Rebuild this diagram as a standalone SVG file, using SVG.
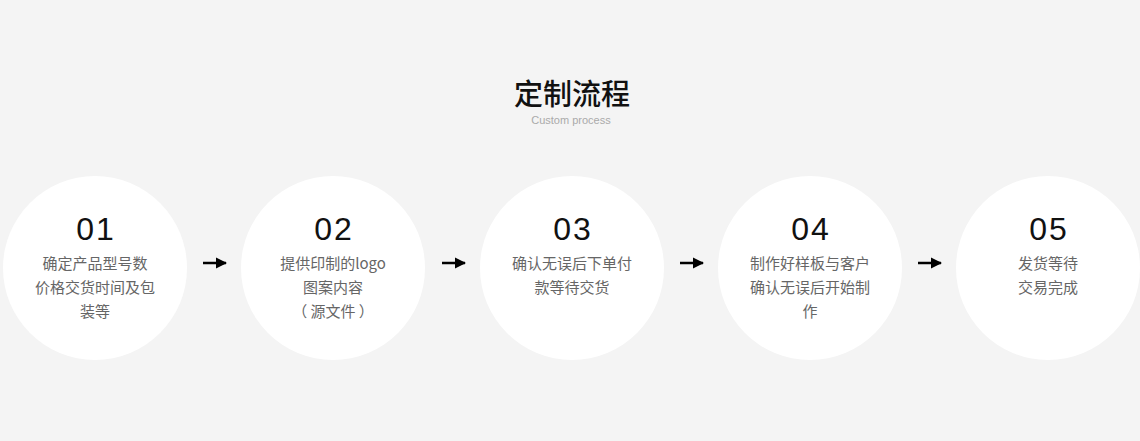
<svg xmlns="http://www.w3.org/2000/svg" width="1140" height="441" viewBox="0 0 1140 441">
<style>
.c{fill:#fff}
.n{font-family:"Liberation Sans","Noto Sans CJK SC",sans-serif;font-size:32px;fill:#111;text-anchor:middle;letter-spacing:2px}
.t{font-family:"Noto Sans CJK SC",sans-serif;font-size:15px;fill:#666;text-anchor:middle}
.a{stroke:#000;stroke-width:2.5;fill:none}
</style>
<defs><marker id="h" viewBox="0 0 10 10" refX="9" refY="5" markerWidth="4.5" markerHeight="5" orient="auto"><path d="M0,0L10,5L0,10z" fill="#000"/></marker></defs>
<rect width="1140" height="441" fill="#f4f4f4"/>
<text x="572" y="105" font-family="Noto Sans CJK SC,sans-serif" font-size="29" font-weight="500" text-anchor="middle" fill="#111">定制流程</text>
<text x="571" y="124" font-family="Liberation Sans,sans-serif" font-size="11" text-anchor="middle" fill="#aaa">Custom process</text>
<g id="node1"><circle class="c" cx="95" cy="268" r="92"/><text class="n" x="96" y="240">01</text><text class="t" x="95" y="269">确定产品型号数</text><text class="t" x="95" y="293">价格交货时间及包</text><text class="t" x="95" y="317">装等</text></g>
<g id="node2"><circle class="c" cx="333" cy="268" r="92"/><text class="n" x="334" y="240">02</text><text class="t" x="333" y="269">提供印制的logo</text><text class="t" x="333" y="293">图案内容</text><text class="t" x="333" y="317">（ 源文件 ）</text></g>
<g id="node3"><circle class="c" cx="572" cy="268" r="92"/><text class="n" x="573" y="240">03</text><text class="t" x="572" y="269">确认无误后下单付</text><text class="t" x="572" y="293">款等待交货</text></g>
<g id="node4"><circle class="c" cx="810" cy="268" r="92"/><text class="n" x="811" y="240">04</text><text class="t" x="810" y="269">制作好样板与客户</text><text class="t" x="810" y="293">确认无误后开始制</text><text class="t" x="810" y="317">作</text></g>
<g id="node5"><circle class="c" cx="1048" cy="268" r="92"/><text class="n" x="1049" y="240">05</text><text class="t" x="1048" y="269">发货等待</text><text class="t" x="1048" y="293">交易完成</text></g>
<g id="connectors">
<path class="a" d="M203,263H226" marker-end="url(#h)"/>
<path class="a" d="M442,263H465" marker-end="url(#h)"/>
<path class="a" d="M680,263H703" marker-end="url(#h)"/>
<path class="a" d="M918,263H941" marker-end="url(#h)"/>
</g>
</svg>
